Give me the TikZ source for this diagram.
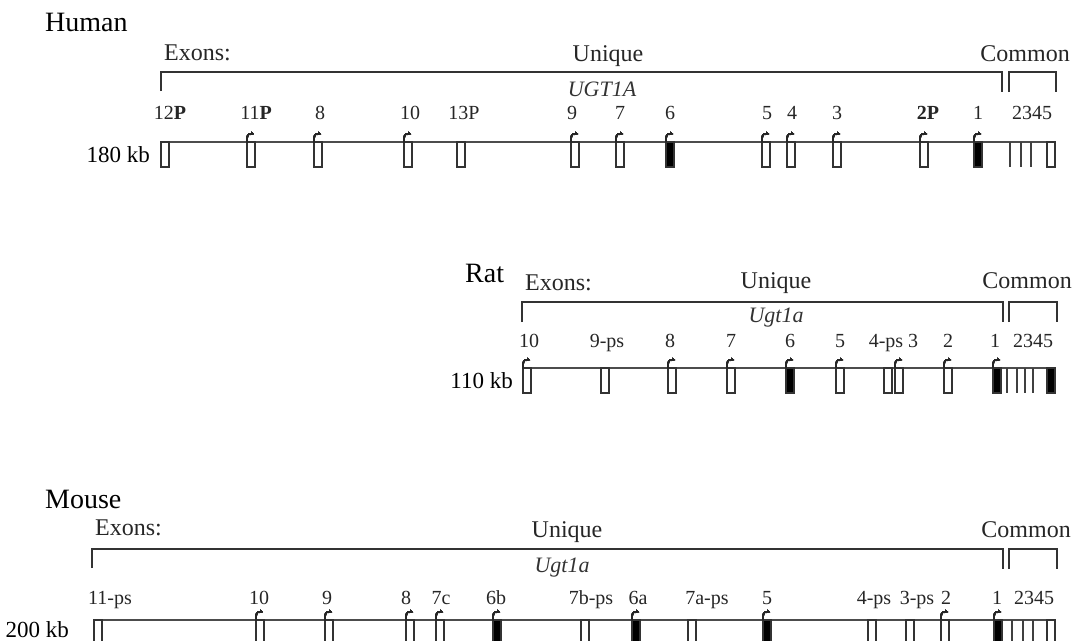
\documentclass[tikz,border=0pt]{standalone}
\usepackage{fontspec}
\setmainfont{Liberation Serif}
\usetikzlibrary{arrows.meta}

% exon box: x, line y, fill
\newcommand{\exon}[3]{\draw[exonbox, fill=#3] (#1-4,#2) rectangle (#1+4,#2+25);}
% start arrow on top of an exon: x, line y
\newcommand{\tss}[2]{\draw[tssarrow] (#1-4,#2) -- (#1-4,#2-3) .. controls (#1-4,#2-8) and (#1-1,#2-9) .. (#1+3,#2-8);}

\begin{document}
\begin{tikzpicture}[x=1pt, y=-1pt,
    gene/.style={line width=1.6pt, black!70},
    brace/.style={line width=1.5pt, black!80},
    exonbox/.style={line width=1.4pt, draw=black!80},
    commonline/.style={line width=1.4pt, black!75},
    tssarrow/.style={line width=1.4pt, black!85, -{Stealth[length=3pt,width=3.5pt]}},
    species/.style={inner sep=0pt, font=\fontsize{28}{28}\selectfont},
    head/.style={inner sep=0pt, font=\fontsize{24}{24}\selectfont, black!85},
    num/.style={inner sep=0pt, anchor=base, font=\fontsize{20}{20}\selectfont, black!85},
    gname/.style={inner sep=0pt, anchor=base, font=\fontsize{22}{22}\selectfont\itshape, black!80},
    kblabel/.style={inner sep=0pt, anchor=base east, font=\fontsize{23}{23}\selectfont}]
  \clip (0,0) rectangle (1076,640);

  % Human
  \node[species, anchor=base west] (human) at (45,31) {Human};
  \node[head, anchor=base west] (hexons) at (164,60) {Exons:};
  \node[head, anchor=base] (hunique) at (608,61) {Unique};
  \node[head, anchor=base east] (hcommon) at (1070,61) {Common};
  \draw[brace] (161,91) -- (161,72) -- (1002,72) -- (1002,92);
  \draw[brace] (1009,92) -- (1009,72) -- (1056,72) -- (1056,92);
  \node[gname] (hgene) at (602,96) {UGT1A};
  \foreach \x/\t [count=\i] in {170/12\textbf{P}, 256/11\textbf{P}, 320/8, 410/10, 464/13P,
      572/9, 620/7, 670/6, 767/5, 792/4, 837/3, 928/\textbf{2P}, 978/1, 1032/2345}
    \node[num] (hl\i) at (\x,119) {\t};
  \node[kblabel] (hkb) at (150,162) {180 kb};
  \draw[gene] (161,142) -- (1056,142);
  \foreach \x/\f in {165/white, 251/white, 318/white, 408/white, 461/white, 575/white,
      620/white, 670/black, 766/white, 791/white, 837/white, 924/white, 978/black, 1051/white}
    \exon{\x}{142}{\f}
  \foreach \x in {251, 318, 408, 575, 620, 670, 766, 791, 837, 924, 978}
    \tss{\x}{142}
  \foreach \x in {1010, 1021, 1031}
    \draw[commonline] (\x,142) -- (\x,167);

  % Rat
  \node[species, anchor=base west] (rat) at (465,282) {Rat};
  \node[head, anchor=base west] (rexons) at (525,290) {Exons:};
  \node[head, anchor=base] (runique) at (776,288) {Unique};
  \node[head, anchor=base east] (rcommon) at (1072,288) {Common};
  \draw[brace] (522,322) -- (522,302) -- (1003,302) -- (1003,322);
  \draw[brace] (1009,322) -- (1009,302) -- (1057,302) -- (1057,322);
  \node[gname] (rgene) at (776,322) {Ugt1a};
  \foreach \x/\t [count=\i] in {529/10, 607/9-ps, 670/8, 731/7, 790/6, 840/5, 886/4-ps,
      913/3, 948/2, 995/1, 1033/2345}
    \node[num] (rl\i) at (\x,347) {\t};
  \node[kblabel] (rkb) at (513,388) {110 kb};
  \draw[gene] (523,368) -- (1056,368);
  \foreach \x/\f in {527/white, 605/white, 672/white, 731/white, 790/black, 840/white,
      888/white, 899/white, 948/white, 997/black, 1051/black}
    \exon{\x}{368}{\f}
  \foreach \x in {527, 672, 731, 790, 840, 899, 948, 997}
    \tss{\x}{368}
  \foreach \x in {1007, 1017, 1025, 1033}
    \draw[commonline] (\x,368) -- (\x,393);

  % Mouse
  \node[species, anchor=base west] (mouse) at (45,508) {Mouse};
  \node[head, anchor=base west] (mexons) at (95,535) {Exons:};
  \node[head, anchor=base] (munique) at (567,537) {Unique};
  \node[head, anchor=base east] (mcommon) at (1071,537) {Common};
  \draw[brace] (92,568) -- (92,549) -- (1003,549) -- (1003,569);
  \draw[brace] (1009,569) -- (1009,549) -- (1057,549) -- (1057,569);
  \node[gname] (mgene) at (562,572) {Ugt1a};
  \foreach \x/\t [count=\i] in {110/11-ps, 259/10, 327/9, 406/8, 441/7c, 496/6b, 591/7b-ps,
      638/6a, 707/7a-ps, 767/5, 874/4-ps, 917/3-ps, 946/2, 997/1, 1034/2345}
    \node[num] (ml\i) at (\x,604) {\t};
  \node[kblabel] (mkb) at (69,637) {200 kb};
  \draw[gene] (95,620) -- (1056,620);
  \foreach \x/\f in {98/white, 260/white, 329/white, 410/white, 440/white, 497/black,
      585/white, 636/black, 692/white, 767/black, 872/white, 910/white, 945/white,
      998/black, 1051/white}
    \exon{\x}{620}{\f}
  \foreach \x in {260, 329, 410, 440, 497, 636, 767, 945, 998}
    \tss{\x}{620}
  \foreach \x in {1012, 1023, 1033}
    \draw[commonline] (\x,620) -- (\x,645);
\end{tikzpicture}
\end{document}
